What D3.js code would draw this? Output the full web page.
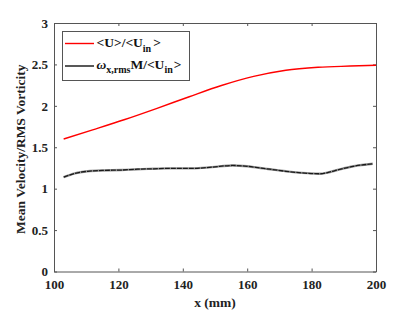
<!DOCTYPE html>
<html>
<head>
<meta charset="utf-8">
<script src="https://cdn.jsdelivr.net/npm/d3@7"></script>
<style>
body { margin: 0; background: #fff; }
svg text { font-family: "Times New Roman", "Liberation Serif", "DejaVu Serif", serif; font-weight: bold; }
</style>
</head>
<body>
<div id="chart"></div>
<script>
var width = 415;
var height = 312;

// mean velocity <U>/<Uin>
var velX = [103, 112, 122, 132, 142, 152, 162, 172, 182, 192, 200];
var velY = [1.60, 1.71, 1.835, 1.97, 2.11, 2.245, 2.355, 2.43, 2.465, 2.48, 2.49];

// rms vorticity
var vortX = [103, 106.5, 110.5, 115, 121, 126, 131, 136, 143, 149, 155.5, 160, 164, 167, 172, 177, 182.5, 185, 188, 193, 199];
var vortY = [1.14, 1.185, 1.21, 1.22, 1.225, 1.235, 1.24, 1.245, 1.245, 1.26, 1.28, 1.27, 1.25, 1.235, 1.21, 1.19, 1.18, 1.195, 1.225, 1.27, 1.30];

var xTicks = [100, 120, 140, 160, 180, 200];
var yTicks = [0, 0.5, 1, 1.5, 2, 2.5, 3];

var margin = {left: 54, right: 39, top: 23, bottom: 40};

var svg = d3.select("#chart").append("svg")
    .attr("width", width)
    .attr("height", height);

var x = d3.scaleLinear().domain([100, 200]).range([margin.left, width - margin.right]);
var y = d3.scaleLinear().domain([0, 3]).range([height - margin.bottom - 0.5, margin.top]);

var axisColor = "#555";
var serif = "'Times New Roman', 'Liberation Serif', 'DejaVu Serif', serif";

// box with inward ticks on all sides
var gx = svg.append("g").attr("transform", "translate(0," + y(0) + ")")
    .call(d3.axisBottom(x).tickValues(xTicks).tickSizeInner(-3).tickSizeOuter(0).tickPadding(8));
var gxt = svg.append("g").attr("transform", "translate(0," + y(3) + ")")
    .call(d3.axisTop(x).tickValues(xTicks).tickSizeInner(-3).tickSizeOuter(0).tickFormat(""));
var gy = svg.append("g").attr("transform", "translate(" + x(100) + ",0)")
    .call(d3.axisLeft(y).tickValues(yTicks).tickSizeInner(-3).tickSizeOuter(0).tickPadding(6).tickFormat(d3.format("")));
var gyr = svg.append("g").attr("transform", "translate(" + x(200) + ",0)")
    .call(d3.axisRight(y).tickValues(yTicks).tickSizeInner(-3).tickSizeOuter(0).tickFormat(""));

[gx, gxt, gy, gyr].forEach(function(g){
    g.attr("font-family", serif);
    g.selectAll("path").attr("stroke", axisColor);
    g.selectAll("line").attr("stroke", axisColor);
    g.selectAll("text").attr("fill", "#222").style("font-size", "13px")
        .style("font-family", serif).style("font-weight", "bold");
});

// axis titles
svg.append("text")
    .attr("x", (x(100) + x(200)) / 2)
    .attr("y", 307)
    .attr("text-anchor", "middle")
    .style("font-size", "13.5px")
    .style("font-family", serif)
    .attr("fill", "#222")
    .text("x (mm)");

svg.append("text")
    .attr("transform", "translate(25," + ((y(0) + y(3)) / 2 + 2) + ") rotate(-90)")
    .attr("text-anchor", "middle")
    .style("font-size", "13.5px")
    .style("font-family", serif)
    .attr("fill", "#222")
    .text("Mean Velocity/RMS Vorticity");

// lines
var line = d3.line()
    .x(function(d){ return x(d[0]); })
    .y(function(d){ return y(d[1]); })
    .curve(d3.curveMonotoneX);

var velData = velX.map(function(v, i){ return [v, velY[i]]; });
var vortData = vortX.map(function(v, i){ return [v, vortY[i]]; });

svg.append("path")
    .attr("d", line(vortData))
    .attr("fill", "none")
    .attr("stroke", "#999")
    .attr("stroke-width", 2.4);
svg.append("path")
    .attr("d", line(vortData))
    .attr("fill", "none")
    .attr("stroke", "#1a1a1a")
    .attr("stroke-width", 1.3)
    .attr("stroke-dasharray", "5,1");

svg.append("path")
    .attr("d", line(velData))
    .attr("fill", "none")
    .attr("stroke", "#ff0000")
    .attr("stroke-width", 1.4);

// legend
var lg = svg.append("g");
lg.append("rect")
    .attr("x", 62.5).attr("y", 31.5)
    .attr("width", 127).attr("height", 49)
    .attr("fill", "#fff")
    .attr("stroke", axisColor)
    .attr("stroke-width", 1);

lg.append("line").attr("x1", 65).attr("x2", 94).attr("y1", 43.5).attr("y2", 43.5)
    .attr("stroke", "#ff0000").attr("stroke-width", 1.4);
lg.append("line").attr("x1", 65).attr("x2", 94).attr("y1", 66).attr("y2", 66)
    .attr("stroke", "#111").attr("stroke-width", 1.4);

var t1 = lg.append("text").attr("x", 96.5).attr("y", 47).style("font-size", "13.5px").style("font-family", serif).attr("fill", "#111");
t1.append("tspan").text("<U>/<U");
t1.append("tspan").attr("dy", 5).style("font-size", "10px").text("in");
t1.append("tspan").attr("dy", -5).attr("dx", 2).text(">");

var t2 = lg.append("text").attr("x", 96.5).attr("y", 69).style("font-size", "13.5px").style("font-family", serif).attr("fill", "#111");
t2.append("tspan").style("font-style", "italic").text("\u03c9");
t2.append("tspan").attr("dy", 4).style("font-size", "10px").text("x,rms");
t2.append("tspan").attr("dy", -4).text("M/<U");
t2.append("tspan").attr("dy", 4).style("font-size", "10px").text("in");
t2.append("tspan").attr("dy", -4).attr("dx", 1).text(">");
</script>
</body>
</html>
